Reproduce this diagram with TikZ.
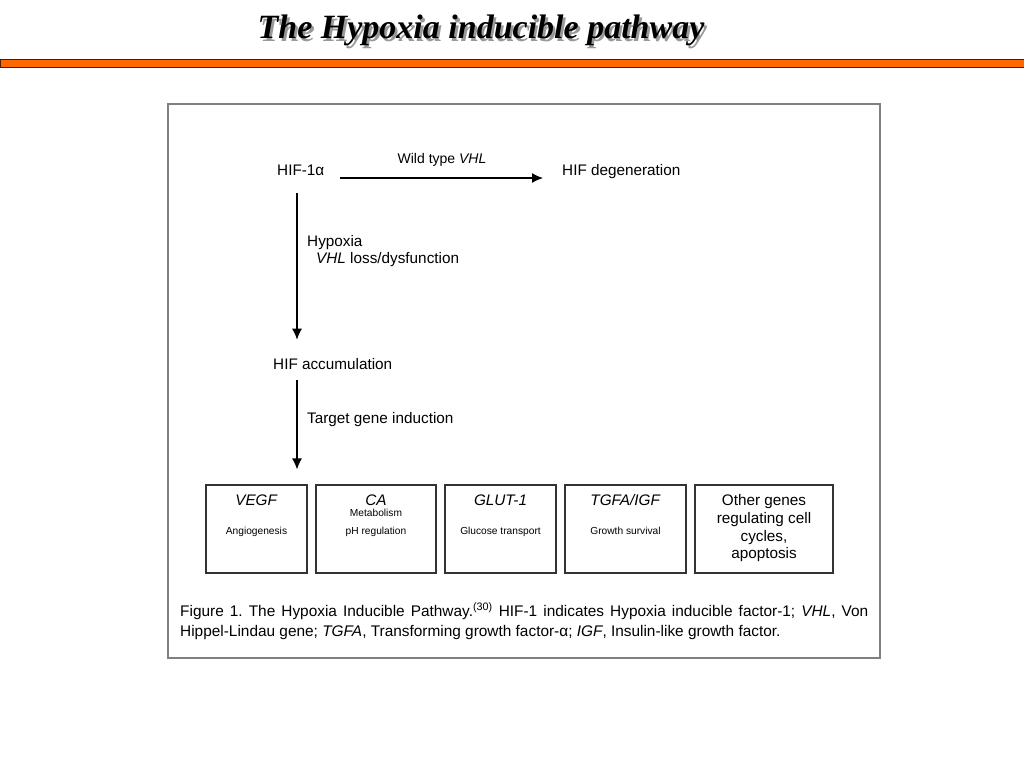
\documentclass[tikz,border=0pt]{standalone}
\usepackage{fontspec}
\setmainfont{Liberation Sans}
\newfontfamily\titlefont{Liberation Serif}
\usetikzlibrary{arrows.meta}
\definecolor{barorange}{RGB}{255,102,0}
\definecolor{frame}{RGB}{128,128,128}
\newcommand{\shadowtext}[1]{\makebox[0pt][l]{\hspace*{2.5pt}\raisebox{-2.5pt}{\color{black!40}#1}}#1}
\begin{document}
\frenchspacing
\begin{tikzpicture}[x=1pt,y=-1pt,
  lbl/.style={inner sep=0pt,font=\fontsize{15.3}{18}\selectfont},
  small/.style={inner sep=0pt,font=\fontsize{10.2}{12}\selectfont},
  genebox/.style={draw=black!80,line width=1.1pt,minimum height=88pt,inner sep=0pt},
  arr/.style={-{Latex[length=11pt,width=10pt]},line width=1.3pt}]
\useasboundingbox (0,0) rectangle (1024,768);
% title and bar
\node[font=\titlefont\bfseries\itshape\fontsize{34}{40}\selectfont,inner sep=0pt] (title) at (481,32) {\shadowtext{The Hypoxia inducible pathway}};
\draw[fill=barorange,draw=black!70!barorange,line width=1pt] (0,59.5) rectangle (1024,67);
% figure frame
\draw[frame,line width=1.5pt] (168,104) rectangle (880,658);
\coordinate (stem) at (297,0);
% pathway
\node[lbl,anchor=base west] (hif) at (277,175) {HIF-1α};
\node[lbl,anchor=base west] (degen) at (562,175) {HIF degeneration};
\node[lbl,anchor=base west] (accum) at (273,369) {HIF accumulation};
\draw[arr,shorten <=15pt,shorten >=19pt] (hif.east |- 0,178) -- (degen.west |- 0,178);
\node[inner sep=0pt,font=\fontsize{14}{16}\selectfont,anchor=base] (wild) at (442,163) {Wild type \textit{VHL}};
\draw[arr,shorten <=18pt,shorten >=18pt] (hif.south -| stem) -- (accum.north -| stem);
\node[lbl,anchor=base west] (hyp) at (307,246) {Hypoxia};
\node[lbl,anchor=base west] (loss) at (316,263) {\textit{VHL} loss/dysfunction};
\node[lbl,anchor=base west] (ind) at (307,423) {Target gene induction};
% target genes
\node[genebox,minimum width=101pt] (vegf) at (256.5,529) {};
\node[genebox,minimum width=120pt] (ca) at (376,529) {};
\node[genebox,minimum width=111pt] (glut) at (500.5,529) {};
\node[genebox,minimum width=121pt] (tgfa) at (625.5,529) {};
\node[genebox,minimum width=138pt] (other) at (764,529) {};
\draw[arr,shorten <=11pt,shorten >=15pt] (accum.south -| stem) -- (vegf.north -| stem);
\node[lbl,anchor=base] at (256.5,505.5) {\textit{VEGF}};
\node[small,anchor=base] at (256.5,534) {Angiogenesis};
\node[lbl,anchor=base] at (376,505.5) {\textit{CA}};
\node[small,anchor=base] at (376,516) {Metabolism};
\node[small,anchor=base] at (376,534) {pH regulation};
\node[lbl,anchor=base] at (500.5,505.5) {\textit{GLUT-1}};
\node[small,anchor=base] at (500.5,534) {Glucose transport};
\node[lbl,anchor=base] at (625.5,505.5) {\textit{TGFA/IGF}};
\node[small,anchor=base] at (625.5,534) {Growth survival};
\node[lbl,anchor=base] at (764,505.5) {Other genes};
\node[lbl,anchor=base] at (764,523.5) {regulating cell};
\node[lbl,anchor=base] at (764,541.5) {cycles,};
\node[lbl,anchor=base] at (764,558.5) {apoptosis};
% caption
\node[inner sep=0pt,anchor=base west,font=\fontsize{15.4}{18}\selectfont] (cap1) at (180,616)
  {\makebox[688pt][s]{Figure 1. The Hypoxia Inducible Pathway.\textsuperscript{(30)} HIF-1 indicates Hypoxia inducible factor-1; \textit{VHL}, Von}};
\node[inner sep=0pt,anchor=base west,font=\fontsize{15.4}{18}\selectfont] (cap2) at (180,636)
  {Hippel-Lindau gene; \textit{TGFA}, Transforming growth factor-α; \textit{IGF}, Insulin-like growth factor.};
\end{tikzpicture}
\end{document}
